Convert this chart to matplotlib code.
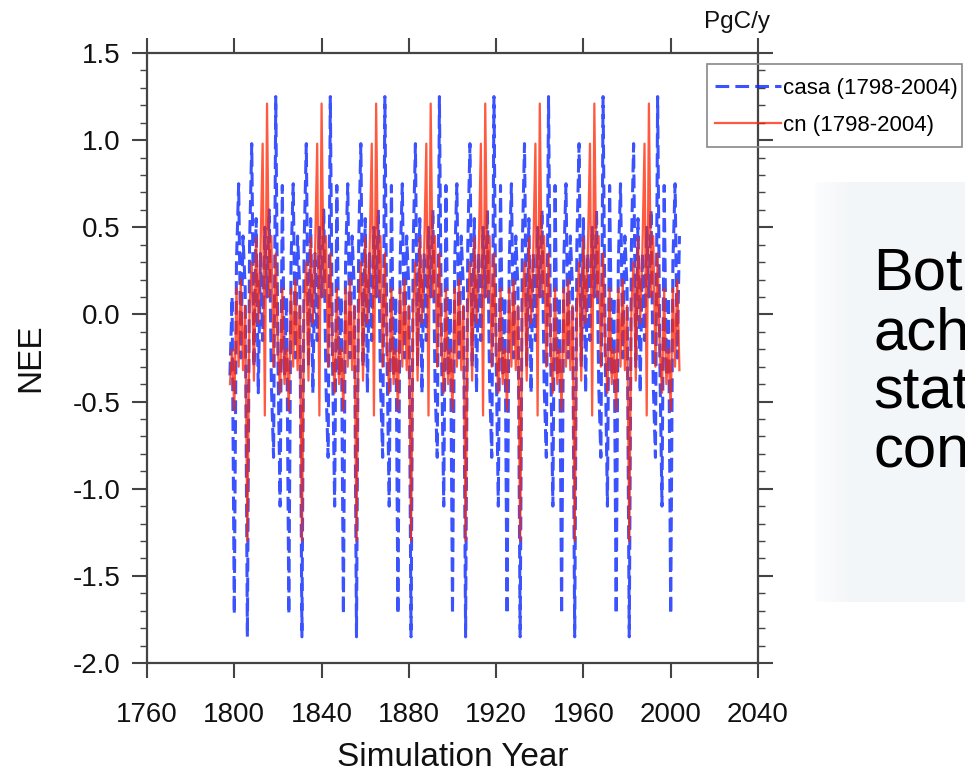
import matplotlib
matplotlib.use("Agg")
import matplotlib.pyplot as plt
from matplotlib.patches import Rectangle
import numpy as np

plt.rcParams['font.family'] = ['Liberation Sans', 'DejaVu Sans']

# ---------------- data (annual NEE, PgC/y) ----------------
years = list(range(1798, 2005))

casa = [
    # 1798-1822
    -0.35, 0.10, -1.72, 0.30, 0.75, -0.25, 0.45, 0.15, -1.85, 0.40, 0.98, -0.30, 0.55,
    -0.45, 0.35, -0.15, 0.50, 0.10, 0.60, -0.40, -0.82, 1.25, -0.25, -1.10, 0.74,
    # 1823-1847
    -0.35, 0.10, -1.72, 0.30, 0.75, -0.25, 0.45, 0.15, -1.85, 0.40, 0.98, -0.30, 0.55,
    -0.45, 0.35, -0.15, 0.50, 0.10, 0.60, -0.40, -0.82, 1.25, -0.25, -1.10, 0.74,
    # 1848-1872
    -0.35, 0.10, -1.72, 0.30, 0.75, -0.25, 0.45, 0.15, -1.85, 0.40, 0.98, -0.30, 0.55,
    -0.45, 0.35, -0.15, 0.50, 0.10, 0.60, -0.40, -0.82, 1.25, -0.25, -1.10, 0.74,
    # 1873-1897
    -0.35, 0.10, -1.72, 0.30, 0.75, -0.25, 0.45, 0.15, -1.85, 0.40, 0.98, -0.30, 0.55,
    -0.45, 0.35, -0.15, 0.50, 0.10, 0.60, -0.40, -0.82, 1.25, -0.25, -1.10, 0.74,
    # 1898-1922
    -0.35, 0.10, -1.72, 0.30, 0.75, -0.25, 0.45, 0.15, -1.85, 0.40, 0.98, -0.30, 0.55,
    -0.45, 0.35, -0.15, 0.50, 0.10, 0.60, -0.40, -0.82, 1.25, -0.25, -1.10, 0.74,
    # 1923-1947
    -0.35, 0.10, -1.72, 0.30, 0.75, -0.25, 0.45, 0.15, -1.85, 0.40, 0.98, -0.30, 0.55,
    -0.45, 0.35, -0.15, 0.50, 0.10, 0.60, -0.40, -0.82, 1.25, -0.25, -1.10, 0.74,
    # 1948-1972
    -0.35, 0.10, -1.72, 0.30, 0.75, -0.25, 0.45, 0.15, -1.85, 0.40, 0.98, -0.30, 0.55,
    -0.45, 0.35, -0.15, 0.50, 0.10, 0.60, -0.40, -0.82, 1.25, -0.25, -1.10, 0.74,
    # 1973-1997
    -0.35, 0.10, -1.72, 0.30, 0.75, -0.25, 0.45, 0.15, -1.85, 0.40, 0.98, -0.30, 0.55,
    -0.45, 0.35, -0.15, 0.50, 0.10, 0.60, -0.40, -0.82, 1.25, -0.25, -1.10, 0.74,
    # 1998-2004
    -0.35, 0.10, -1.72, 0.30, 0.75, -0.25, 0.45,
]

cn = [
    # 1798-1822
    -0.40, -0.20, -0.55, 0.15, -0.30, 0.20, -0.32, 0.05, -1.30, 0.05, 0.30, -0.38, 0.44,
    -0.05, 0.35, 0.98, -0.58, 1.21, 0.10, 0.45, -0.30, 0.35, -0.20, -0.45, 0.15,
    # 1823-1847
    -0.40, -0.20, -0.55, 0.15, -0.30, 0.20, -0.32, 0.05, -1.30, 0.05, 0.30, -0.38, 0.44,
    -0.05, 0.35, 0.98, -0.58, 1.21, 0.10, 0.45, -0.30, 0.35, -0.20, -0.45, 0.15,
    # 1848-1872
    -0.40, -0.20, -0.55, 0.15, -0.30, 0.20, -0.32, 0.05, -1.30, 0.05, 0.30, -0.38, 0.44,
    -0.05, 0.35, 0.98, -0.58, 1.21, 0.10, 0.45, -0.30, 0.35, -0.20, -0.45, 0.15,
    # 1873-1897
    -0.40, -0.20, -0.55, 0.15, -0.30, 0.20, -0.32, 0.05, -1.30, 0.05, 0.30, -0.38, 0.44,
    -0.05, 0.35, 0.98, -0.58, 1.21, 0.10, 0.45, -0.30, 0.35, -0.20, -0.45, 0.15,
    # 1898-1922
    -0.40, -0.20, -0.55, 0.15, -0.30, 0.20, -0.32, 0.05, -1.30, 0.05, 0.30, -0.38, 0.44,
    -0.05, 0.35, 0.98, -0.58, 1.21, 0.10, 0.45, -0.30, 0.35, -0.20, -0.45, 0.15,
    # 1923-1947
    -0.40, -0.20, -0.55, 0.15, -0.30, 0.20, -0.32, 0.05, -1.30, 0.05, 0.30, -0.38, 0.44,
    -0.05, 0.35, 0.98, -0.58, 1.21, 0.10, 0.45, -0.30, 0.35, -0.20, -0.45, 0.15,
    # 1948-1972
    -0.40, -0.20, -0.55, 0.15, -0.30, 0.20, -0.32, 0.05, -1.30, 0.05, 0.30, -0.38, 0.44,
    -0.05, 0.35, 0.98, -0.58, 1.21, 0.10, 0.45, -0.30, 0.35, -0.20, -0.45, 0.15,
    # 1973-1997
    -0.40, -0.20, -0.55, 0.15, -0.30, 0.20, -0.32, 0.05, -1.30, 0.05, 0.30, -0.38, 0.44,
    -0.05, 0.35, 0.98, -0.58, 1.21, 0.10, 0.45, -0.30, 0.35, -0.20, -0.45, 0.15,
    # 1998-2004
    -0.40, -0.20, -0.55, 0.15, -0.30, 0.20, -0.32,
]

series_labels = ["casa (1798-2004)", "cn (1798-2004)"]
x_ticks = [1760, 1800, 1840, 1880, 1920, 1960, 2000, 2040]
y_ticks = [-2.0, -1.5, -1.0, -0.5, 0.0, 0.5, 1.0, 1.5]
side_text = ["Both", "achieve", "state", "conditions"]

# ---------------- figure ----------------
W, H = 965, 773
fig = plt.figure(figsize=(W / 100, H / 100), dpi=100)
fig.patch.set_facecolor("white")

ax = fig.add_axes([147 / W, 1 - 663 / H, (758 - 147) / W, (663 - 53) / H])

ax.plot(years, casa, color="#0a28ff", alpha=0.8, lw=2.2,
        linestyle=(0, (4.5, 2.0)), label=series_labels[0], zorder=3)
ax.plot(years, cn, color="#ff2200", alpha=0.75, lw=1.6,
        linestyle="-", label=series_labels[1], zorder=4)

ax.set_xlim(1760, 2040)
ax.set_ylim(-2.0, 1.5)
ax.set_xticks(x_ticks)
ax.set_xticklabels([str(v) for v in x_ticks])
ax.set_yticks(y_ticks)
ax.set_yticklabels([f"{v:.1f}" for v in y_ticks])
ax.set_yticks(np.arange(-2.0, 1.501, 0.1), minor=True)

spine_col = "#444444"
for s in ax.spines.values():
    s.set_color(spine_col)
    s.set_linewidth(1.6)

ax.tick_params(axis="both", which="major", direction="out", length=11, width=1.5,
               color=spine_col, labelsize=20, labelcolor="#111111",
               top=True, right=True)
ax.tick_params(axis="x", which="major", pad=17)
ax.tick_params(axis="y", which="major", pad=8)
ax.tick_params(axis="y", which="minor", direction="out", length=5, width=1.0,
               color=spine_col, left=True, right=True)
ax.tick_params(axis="x", which="minor", bottom=False, top=False)

ax.set_xlabel("Simulation Year", fontsize=24, labelpad=10, color="#111111")
ax.set_ylabel("NEE", fontsize=24, labelpad=19, color="#111111")

fig.text(737 / W, 1 - 22 / H, "PgC/y", fontsize=17.5, ha="center", va="center",
         color="#111111")

# legend: entries without frame, plus a separate box outline
leg = fig.legend(loc="upper left", bbox_to_anchor=(707 / W, 1 - 70 / H),
                 fontsize=16, frameon=False,
                 handlelength=3.0, handletextpad=0.05, labelspacing=0.74,
                 borderpad=0.35, borderaxespad=0.0)
fig.patches.append(Rectangle((707 / W, 1 - 147 / H), (962 - 707) / W, (147 - 64) / H,
                             transform=fig.transFigure, fill=False,
                             edgecolor="#888888", linewidth=1.2, zorder=5))

# slide text panel on the right (partially visible)
bg = fig.add_axes([815 / W, 1 - 602 / H, (W - 815) / W, (602 - 182) / H])
grad = np.ones((10, 100, 3))
ramp = np.clip(np.linspace(0, 1, 100) / 0.25, 0, 1)
start = np.array([0.985, 0.99, 0.995])
end = np.array([0.953, 0.965, 0.973])
grad[:] = start + (end - start) * ramp[None, :, None]
bg.imshow(grad, aspect="auto", extent=[0, 1, 0, 1])
bg.set_axis_off()

baselines = [289, 349, 408, 466]
for t, yb in zip(side_text, baselines):
    fig.text(873 / W, 1 - yb / H, t, fontsize=43, ha="left", va="baseline",
             color="black")

fig.savefig("out.png", dpi=100)
